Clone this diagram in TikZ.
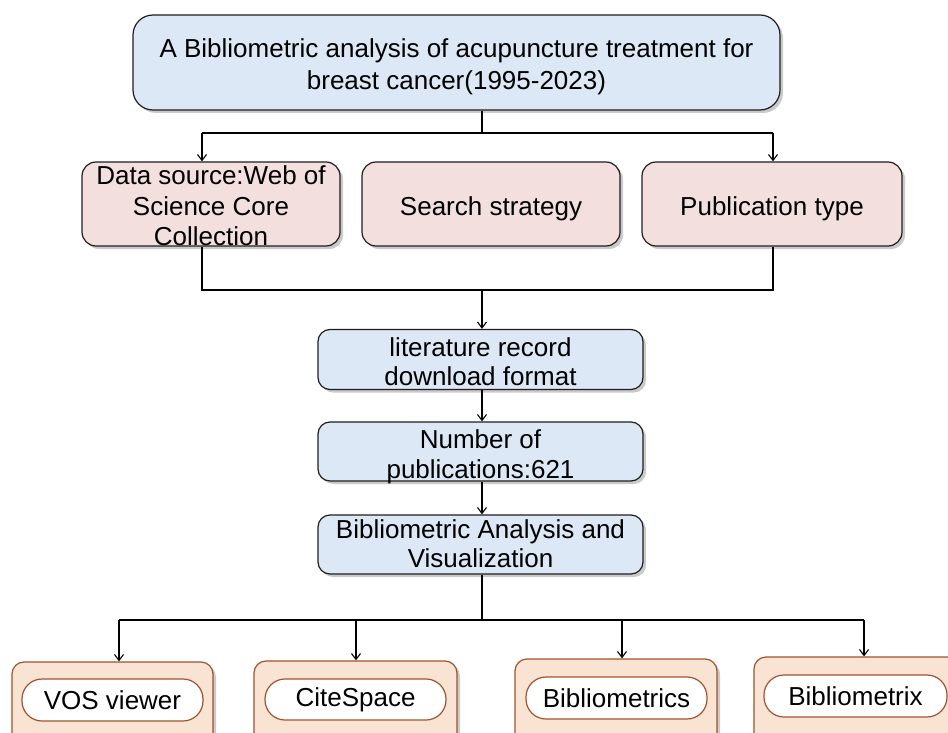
\documentclass[tikz,border=0pt]{standalone}
\usepackage{fontspec}
\setmainfont{Liberation Sans}
\usetikzlibrary{arrows.meta,shadows}
\definecolor{bluefill}{RGB}{221,232,246}
\definecolor{pinkfill}{RGB}{244,223,223}
\definecolor{peachfill}{RGB}{249,228,212}
\definecolor{brownline}{RGB}{160,82,45}
\definecolor{boxline}{RGB}{30,30,30}
\begin{document}
\begin{tikzpicture}[x=1pt,y=-1pt,
  shadowed/.style={drop shadow={shadow xshift=3pt,shadow yshift=-3pt,opacity=0.35,fill=black!60}},
  bluebox/.style={draw=boxline,line width=1.2pt,fill=bluefill,shadowed,inner sep=0pt},
  pinkbox/.style={draw=boxline,line width=1.2pt,fill=pinkfill,shadowed,inner sep=0pt,
    rounded corners=14pt,minimum height=84pt},
  txt/.style={align=center,inner sep=0pt,font=\fontsize{26}{30}\selectfont},
  toolbox/.style={draw=brownline,line width=1.2pt,fill=peachfill,shadowed,rounded corners=12pt,inner sep=0pt},
  pill/.style={draw=brownline,line width=1.2pt,fill=white,rounded corners=20pt,inner sep=0pt,
    minimum height=42pt,minimum width=181pt,font=\fontsize{26}{30}\selectfont},
  conn/.style={line width=1.2pt,draw=black},
  arr/.style={conn,-{Straight Barb[length=6pt,width=9pt,line width=1.1pt]}}
]
\useasboundingbox (0,0) rectangle (948,733);
\clip (0,0) rectangle (948,733);

% title
\node[bluebox,rounded corners=20pt,minimum width=647pt,minimum height=95pt] (top) at (456.5,62.5) {};
\node[txt,font=\fontsize{26}{32}\selectfont] (topt) at ([yshift=-4pt]top.center)
  {A Bibliometric analysis of acupuncture treatment for\\breast cancer(1995-2023)};

% second row
\node[pinkbox,minimum width=258pt] (src) at (211,204) {};
\node[pinkbox,minimum width=258pt] (search) at (491,204) {};
\node[pinkbox,minimum width=260pt] (pub) at (772,204) {};
\node[txt,font=\fontsize{26}{30.5}\selectfont] (srct) at ([yshift=-2pt]src.center) {Data source:Web of\\Science Core\\Collection};
\node[txt] (searcht) at ([yshift=-5pt]search.center) {Search strategy};
\node[txt] (pubt) at ([yshift=-5pt]pub.center) {Publication type};

% middle column
\node[bluebox,rounded corners=12pt,minimum width=325pt,minimum height=60pt] (lit) at (480.5,359.5) {};
\node[bluebox,rounded corners=12pt,minimum width=325pt,minimum height=59pt] (num) at (480.5,451.5) {};
\node[bluebox,rounded corners=12pt,minimum width=325pt,minimum height=59pt] (ana) at (480.5,544.5) {};
\node[txt,font=\fontsize{26}{29}\selectfont] (litt) at ([yshift=-2pt]lit.center) {literature record\\download format};
\node[txt] (numt) at ([yshift=-5pt]num.center) {Number of\\publications:621};
\node[txt,font=\fontsize{26}{29.5}\selectfont] (anat) at ([yshift=1pt]ana.center) {Bibliometric Analysis and\\Visualization};

% tools
\node[toolbox,minimum width=201pt,minimum height=98pt] (t1) at (112.5,711) {};
\node[toolbox,minimum width=203pt,minimum height=99pt] (t2) at (355.5,710.5) {};
\node[toolbox,minimum width=202pt,minimum height=101pt] (t3) at (616,709.5) {};
\node[toolbox,minimum width=206pt,minimum height=103pt] (t4) at (857,708.5) {};
\node[pill] (p1) at (112.5,700) {VOS viewer};
\node[pill,minimum height=41pt] (p2) at (355.5,699.5) {CiteSpace};
\node[pill] (p3) at (616.5,698) {Bibliometrics};
\node[pill,minimum width=183pt] (p4) at (855.5,696) {Bibliometrix};

% connectors: title -> row
\coordinate (s1) at (482,133);
\coordinate (a1) at (202,133);
\coordinate (a3) at (773,133);
\draw[conn] (top.south -| s1) -- (s1);
\draw[conn] (a1) -- (a3);
\draw[arr] (a1) -- (a1 |- src.north);
\draw[arr] (a3) -- (a3 |- pub.north);

% row -> literature
\coordinate (m1) at (202,290);
\coordinate (m3) at (773,290);
\coordinate (mc) at (482,290);
\draw[conn] (m1 |- src.south) -- (m1) -- (m3) -- (m3 |- pub.south);
\draw[arr] (mc) -- (mc |- lit.north);

% chain
\draw[arr] (mc |- lit.south) -- (mc |- num.north);
\draw[arr] (mc |- num.south) -- (mc |- ana.north);

% analysis -> tools
\coordinate (bc) at (482,620);
\coordinate (b1) at (119,620);
\coordinate (b2) at (356,620);
\coordinate (b3) at (622,620);
\coordinate (b4) at (864,620);
\draw[conn] (bc |- ana.south) -- (bc);
\draw[conn] (b1) -- (b4);
\draw[arr] (b1) -- (b1 |- t1.north);
\draw[arr] (b2) -- (b2 |- t2.north);
\draw[arr] (b3) -- (b3 |- t3.north);
\draw[arr] (b4) -- (b4 |- t4.north);
\end{tikzpicture}
\end{document}
